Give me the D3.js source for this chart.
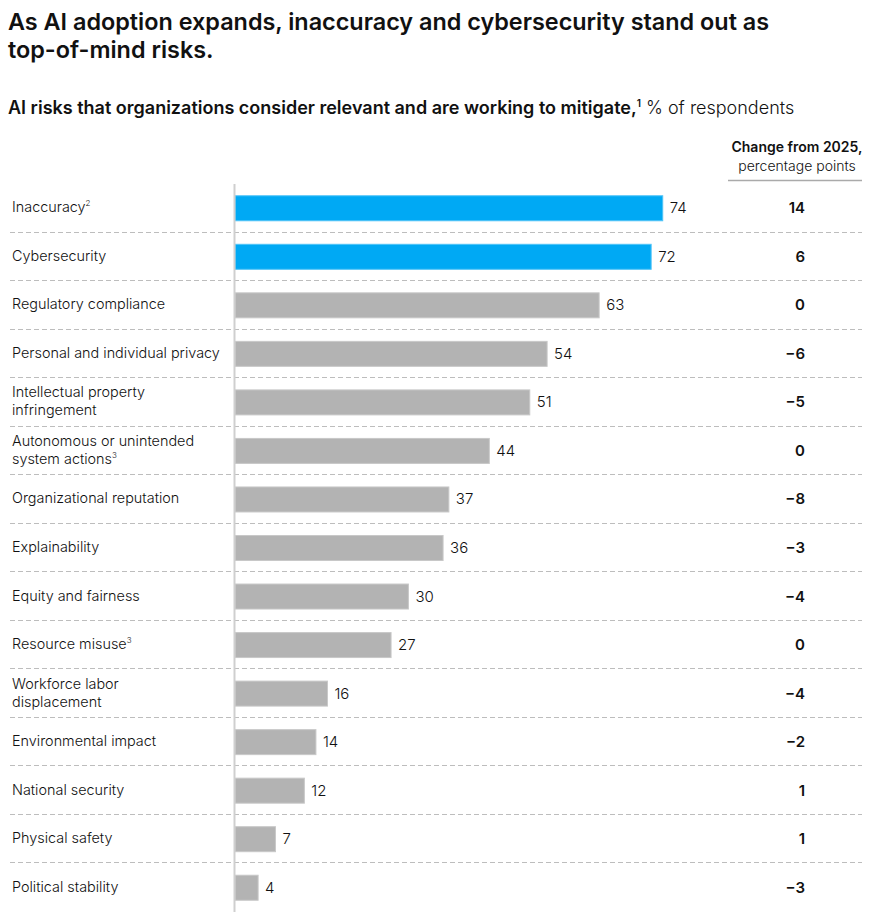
<!DOCTYPE html>
<html>
<head>
<meta charset="utf-8">
<script src="https://cdn.jsdelivr.net/npm/d3@7"></script>
<style>
  body { margin: 0; background: #fff; font-family: "Inter", "Noto Sans", sans-serif; }
  svg text { fill: #111; }
</style>
</head>
<body>
<div id="chart"></div>
<script>
// data
const labelLines = [
    ["Inaccuracy"], ["Cybersecurity"], ["Regulatory compliance"], ["Personal and individual privacy"],
    ["Intellectual property", "infringement"], ["Autonomous or unintended", "system actions"],
    ["Organizational reputation"], ["Explainability"], ["Equity and fairness"], ["Resource misuse"],
    ["Workforce labor", "displacement"], ["Environmental impact"], ["National security"],
    ["Physical safety"], ["Political stability"]
];
const footnotes = ["2", "", "", "", "", "3", "", "", "", "3", "", "", "", "", ""];
const values = [74, 72, 63, 54, 51, 44, 37, 36, 30, 27, 16, 14, 12, 7, 4];
const changes = ["14", "6", "0", "\u22126", "\u22125", "0", "\u22128", "\u22123", "\u22124", "0", "\u22124", "\u22122", "1", "1", "\u22123"];
const highlighted = [true, true, false, false, false, false, false, false, false, false, false, false, false, false, false];

const W = 880, H = 922;
const svg = d3.select("#chart").append("svg")
    .attr("width", W)
    .attr("height", H);

// titles
svg.append("text").attr("x", 8).attr("y", 30)
    .attr("font-size", 23.4).attr("font-weight", 600)
    .text("As AI adoption expands, inaccuracy and cybersecurity stand out as");
svg.append("text").attr("x", 8).attr("y", 58)
    .attr("font-size", 23.4).attr("font-weight", 600)
    .text("top-of-mind risks.");

let sub = svg.append("text").attr("x", 8).attr("y", 114).attr("font-size", 18);
sub.append("tspan").attr("font-weight", 600)
    .text("AI risks that organizations consider relevant and are working to mitigate,");
sub.append("tspan").attr("font-size", 10).attr("dy", -7).attr("font-weight", 600).text("1");
sub.append("tspan").attr("dy", 7).attr("font-weight", 300).text(" % of respondents");

// change column header
svg.append("text").attr("x", 797).attr("y", 152).attr("text-anchor", "middle")
    .attr("font-size", 14).attr("font-weight", 600).text("Change from 2025,");
svg.append("text").attr("x", 797).attr("y", 171).attr("text-anchor", "middle")
    .attr("font-size", 14).attr("font-weight", 300).text("percentage points");
svg.append("line").attr("x1", 728).attr("x2", 862).attr("y1", 180.5).attr("y2", 180.5)
    .attr("stroke", "#aaa").attr("stroke-width", 1.5);

// scales
const x = d3.scaleLinear().domain([0, 100]).range([235, 235 + 578]);
const y = d3.scaleBand().domain(d3.range(values.length))
    .range([184, 912]).paddingInner(0).paddingOuter(0);
const barH = 25;

const rows = svg.append("g").attr("class", "rows");

// dashed dividers
rows.selectAll("line.div")
    .data(d3.range(values.length - 1))
    .join("line")
    .attr("class", "div")
    .attr("x1", 10).attr("x2", 862)
    .attr("y1", i => Math.round(y(i + 1)) - 0.5)
    .attr("y2", i => Math.round(y(i + 1)) - 0.5)
    .attr("stroke", "#bdbdbd")
    .attr("stroke-dasharray", "5,3");

// bars
rows.selectAll("rect.bar")
    .data(values)
    .join("rect")
    .attr("class", "bar")
    .attr("x", x(0))
    .attr("y", (d, i) => y(i) + y.bandwidth() / 2 - barH / 2)
    .attr("width", d => x(d) - x(0))
    .attr("height", barH)
    .attr("fill", (d, i) => highlighted[i] ? "#00a9f4" : "#b3b3b3")
    .attr("stroke", (d, i) => highlighted[i] ? "#4fc3f7" : "#c8c8c8")
    .attr("stroke-width", 1);

// value labels
rows.selectAll("text.val")
    .data(values)
    .join("text")
    .attr("class", "val")
    .attr("x", d => x(d) + 7)
    .attr("y", (d, i) => y(i) + y.bandwidth() / 2 + 5)
    .attr("font-size", 15).attr("font-weight", 300)
    .text(d => d);

// change values
rows.selectAll("text.chg")
    .data(changes)
    .join("text")
    .attr("class", "chg")
    .attr("x", 805)
    .attr("y", (d, i) => y(i) + y.bandwidth() / 2 + 5)
    .attr("text-anchor", "end")
    .attr("font-size", 15).attr("font-weight", 600)
    .text(d => d);

// category labels
labelLines.forEach((lines, i) => {
    const cy = y(i) + y.bandwidth() / 2;
    const t = rows.append("text")
        .attr("x", 12)
        .attr("font-size", 14.4).attr("font-weight", 300);
    const top = cy + 4 - (lines.length - 1) * 9;
    lines.forEach((ln, j) => {
        t.append("tspan").attr("x", 12).attr("y", top + j * 18).text(ln);
    });
    if (footnotes[i]) {
        t.append("tspan").attr("font-size", 8).attr("dy", -6).text(footnotes[i]);
    }
});

// axis line
svg.append("line")
    .attr("x1", x(0) - 0.5).attr("x2", x(0) - 0.5)
    .attr("y1", 184).attr("y2", 912)
    .attr("stroke", "#cfcfcf").attr("stroke-width", 2);
</script>
</body>
</html>
